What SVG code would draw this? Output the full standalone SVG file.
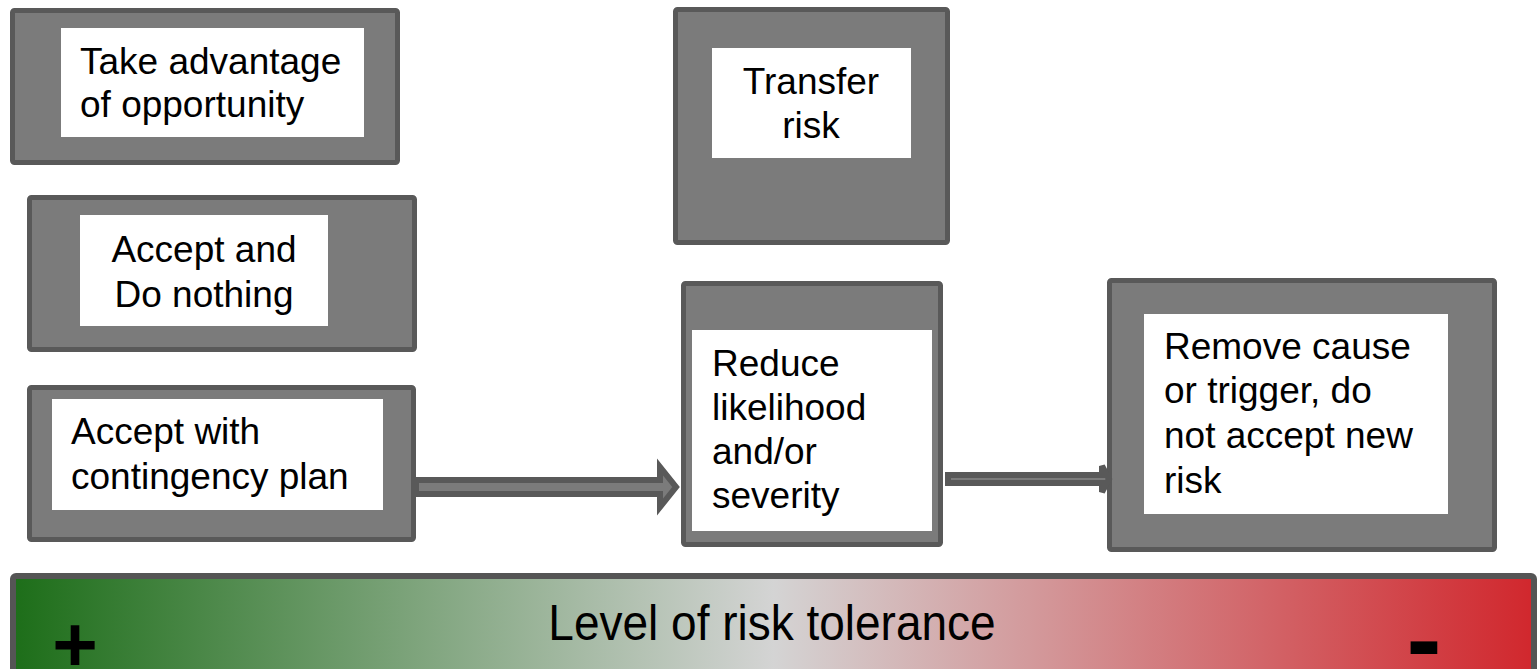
<svg xmlns="http://www.w3.org/2000/svg" width="1539" height="669" viewBox="0 0 1539 669">
  <style>
    .box { fill: #7b7b7b; stroke: #595959; stroke-width: 5; }
    .inner { fill: #ffffff; }
    .lbl { font-family: "Liberation Sans", Arial, sans-serif; font-size: 37px; fill: #000; }
    .mid { text-anchor: middle; }
    .arrow { fill: #7b7b7b; stroke: #595959; stroke-linejoin: miter; }
    .sign { font-family: "Liberation Sans", Arial, sans-serif; font-weight: bold; fill: #000; }
  </style>
  <defs>
    <linearGradient id="tol" x1="0" y1="0" x2="1" y2="0">
      <stop offset="0" stop-color="#1d6e19"/>
      <stop offset="0.5" stop-color="#d4d4d4"/>
      <stop offset="1" stop-color="#d1272d"/>
    </linearGradient>
  </defs>
  <rect width="1539" height="669" fill="#ffffff"/>

  <g id="node-take-advantage">
    <rect class="box" x="12.5" y="10.5" width="385" height="152" rx="2"/>
    <rect class="inner" x="61" y="28" width="303" height="109"/>
    <text class="lbl" x="80" y="74">Take advantage</text>
    <text class="lbl" x="80" y="117">of opportunity</text>
  </g>

  <g id="node-accept-do-nothing">
    <rect class="box" x="29.5" y="197.5" width="385" height="152" rx="2"/>
    <rect class="inner" x="80" y="215" width="248" height="111"/>
    <text class="lbl mid" x="204" y="262">Accept and</text>
    <text class="lbl mid" x="204" y="307">Do nothing</text>
  </g>

  <g id="node-accept-contingency">
    <rect class="box" x="29.5" y="387.5" width="384" height="152" rx="2"/>
    <rect class="inner" x="52" y="399" width="331" height="111"/>
    <text class="lbl" x="71" y="444">Accept with</text>
    <text class="lbl" x="71" y="489">contingency plan</text>
  </g>

  <g id="node-transfer-risk">
    <rect class="box" x="675.5" y="9.5" width="272" height="233" rx="2"/>
    <rect class="inner" x="712" y="48" width="199" height="110"/>
    <text class="lbl mid" x="811" y="94">Transfer</text>
    <text class="lbl mid" x="811" y="138">risk</text>
  </g>

  <g id="node-reduce">
    <rect class="box" x="683.5" y="283.5" width="257" height="261" rx="2"/>
    <rect class="inner" x="692" y="330" width="240" height="201"/>
    <text class="lbl" x="712" y="376">Reduce</text>
    <text class="lbl" x="712" y="420">likelihood</text>
    <text class="lbl" x="712" y="464">and/or</text>
    <text class="lbl" x="712" y="508">severity</text>
  </g>

  <g id="node-remove-cause">
    <rect class="box" x="1109.5" y="280.5" width="385" height="269" rx="2"/>
    <rect class="inner" x="1144" y="314" width="304" height="200"/>
    <text class="lbl" x="1164" y="359">Remove cause</text>
    <text class="lbl" x="1164" y="403">or trigger, do</text>
    <text class="lbl" x="1164" y="448">not accept new</text>
    <text class="lbl" x="1164" y="493">risk</text>
  </g>

  <g id="connectors">
    <polygon class="arrow" stroke-width="6" points="416,480 660,480 660,467 676,487 660,507 660,494 416,494"/>
    <polygon class="arrow" stroke-width="6" points="948,475 1102,475 1102,466 1109,479 1102,492 1102,483 948,483"/>
  </g>

  <g id="tolerance-bar">
    <rect x="13" y="576" width="1521" height="100" rx="3" fill="url(#tol)" stroke="#555555" stroke-width="6"/>
    <text class="lbl mid" transform="translate(772,640) scale(1,1.08)" style="font-size:46px">Level of risk tolerance</text>
    <text class="sign mid" x="75" y="671" style="font-size:78px">+</text>
    <text class="sign mid" x="1424" y="675" style="font-size:105px">-</text>
  </g>
</svg>
